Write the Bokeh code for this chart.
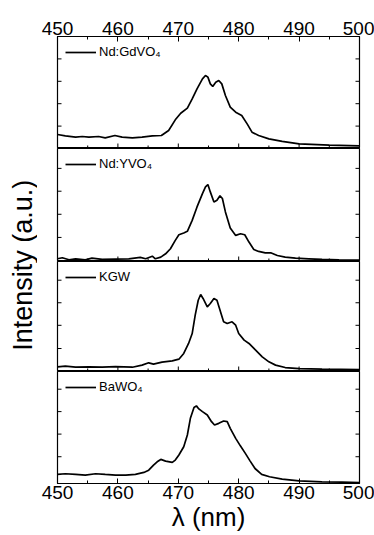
import numpy as np
from bokeh.plotting import figure
from bokeh.models import LinearAxis, FixedTicker, Range1d, Legend, LegendItem, Label
from bokeh.layouts import row, column
from bokeh.embed import file_html
from bokeh.resources import INLINE

FONT = "Liberation Sans"

# Emission spectra (normalised intensity, a.u.) of the four crystals
wl_gdvo4 = [450.0, 451.3, 453.0, 454.1, 455.2, 456.8, 457.9, 459.5, 460.7, 462.4,
            464.0, 465.7, 467.2, 468.4, 469.5, 470.4, 471.5, 472.3, 473.1, 474.0,
            474.5, 474.9, 475.3, 475.7, 476.2, 476.7, 477.2, 477.8, 478.6, 479.5,
            480.5, 481.4, 482.2, 483.3, 485.0, 487.2, 490.0, 495.0, 500.0]
int_gdvo4 = [0.125, 0.113, 0.101, 0.107, 0.101, 0.107, 0.095, 0.116, 0.101, 0.095,
             0.101, 0.113, 0.116, 0.161, 0.256, 0.315, 0.360, 0.443, 0.533, 0.622,
             0.652, 0.637, 0.577, 0.554, 0.592, 0.607, 0.577, 0.473, 0.369, 0.324,
             0.295, 0.220, 0.146, 0.116, 0.086, 0.063, 0.042, 0.030, 0.024]

wl_yvo4 = [450.0, 450.8, 451.9, 453.0, 454.6, 455.7, 457.4, 459.6, 461.8, 463.7,
           464.6, 465.7, 466.2, 467.1, 467.9, 468.7, 469.5, 470.1, 470.9, 471.5,
           472.3, 473.1, 474.0, 474.5, 474.9, 475.3, 475.9, 476.4, 476.9, 477.3,
           477.8, 478.6, 479.5, 480.3, 481.0, 481.7, 482.5, 483.3, 484.4, 485.3,
           486.4, 487.7, 489.4, 491.6, 493.8, 496.6, 500.0]
int_yvo4 = [0.024, 0.033, 0.015, 0.024, 0.015, 0.030, 0.018, 0.021, 0.024, 0.036,
            0.024, 0.047, 0.024, 0.039, 0.068, 0.113, 0.187, 0.237, 0.252, 0.267,
            0.364, 0.483, 0.601, 0.661, 0.681, 0.616, 0.527, 0.542, 0.581, 0.557,
            0.439, 0.296, 0.231, 0.246, 0.237, 0.172, 0.107, 0.089, 0.077, 0.077,
            0.053, 0.039, 0.030, 0.024, 0.018, 0.015, 0.012]

wl_kgw = [450.0, 451.3, 453.0, 455.2, 457.4, 459.6, 462.4, 464.0, 465.1, 465.9,
          467.3, 469.0, 470.1, 470.9, 471.7, 472.3, 472.8, 473.3, 473.7, 474.1,
          474.8, 475.3, 475.9, 476.4, 477.0, 477.5, 478.1, 478.9, 479.5, 480.0,
          480.9, 481.7, 482.8, 483.9, 485.0, 486.1, 487.7, 490.0, 493.8, 500.0]
int_kgw = [0.042, 0.048, 0.039, 0.042, 0.039, 0.045, 0.039, 0.058, 0.079, 0.067,
           0.085, 0.097, 0.112, 0.164, 0.255, 0.345, 0.512, 0.648, 0.700, 0.664,
           0.588, 0.618, 0.664, 0.648, 0.542, 0.452, 0.436, 0.452, 0.421, 0.345,
           0.285, 0.255, 0.194, 0.133, 0.088, 0.058, 0.036, 0.027, 0.021, 0.018]

wl_bawo4 = [450.0, 451.3, 453.0, 454.6, 456.3, 457.9, 459.6, 461.3, 462.9, 464.3,
            465.1, 465.9, 466.5, 467.1, 467.9, 469.0, 469.5, 470.1, 470.9, 471.5,
            472.0, 472.6, 473.0, 473.4, 474.0, 474.8, 475.5, 476.0, 476.7, 477.5,
            478.1, 478.6, 479.5, 480.3, 481.1, 481.9, 482.7, 483.8, 485.1, 487.2,
            490.0, 493.8, 497.1, 500.0]
int_bawo4 = [0.081, 0.087, 0.081, 0.075, 0.087, 0.081, 0.075, 0.075, 0.081, 0.099,
             0.119, 0.164, 0.194, 0.215, 0.200, 0.188, 0.209, 0.254, 0.328, 0.433,
             0.582, 0.678, 0.693, 0.666, 0.642, 0.612, 0.552, 0.522, 0.537, 0.558,
             0.552, 0.493, 0.403, 0.334, 0.269, 0.200, 0.134, 0.081, 0.060, 0.039,
             0.024, 0.015, 0.012, 0.009]

labels = ["Nd:GdVO\u2084", "Nd:YVO\u2084", "KGW", "BaWO\u2084"]

# Axis ticks
x_major = [450, 460, 470, 480, 490, 500]
x_minor = [455, 465, 475, 485, 495]
y_ticks_gdvo4 = [0.2, 0.4, 0.6, 0.8]
y_ticks_yvo4 = [0.213, 0.418, 0.622, 0.824]
y_ticks_kgw = [0.209, 0.42, 0.625, 0.83]
y_ticks_bawo4 = [0.239, 0.441, 0.642, 0.842]

X_LO, X_HI = 450, 500

panels = [
    dict(x=wl_gdvo4, y=int_gdvo4, label=labels[0], yt=y_ticks_gdvo4, h=148, top=36, bottom=0),
    dict(x=wl_yvo4, y=int_yvo4, label=labels[1], yt=y_ticks_yvo4, h=113, top=0, bottom=0),
    dict(x=wl_kgw, y=int_kgw, label=labels[2], yt=y_ticks_kgw, h=110, top=0, bottom=0),
    dict(x=wl_bawo4, y=int_bawo4, label=labels[3], yt=y_ticks_bawo4, h=164, top=0, bottom=52),
]


def labelled_x_axis():
    ax = LinearAxis()
    ax.ticker = FixedTicker(ticks=x_major, minor_ticks=x_minor)
    ax.major_tick_in = 5
    ax.major_tick_out = 0
    ax.minor_tick_in = 3
    ax.minor_tick_out = 0
    ax.axis_line_color = "black"
    ax.major_tick_line_color = "black"
    ax.minor_tick_line_color = "black"
    ax.major_label_text_font = FONT
    ax.major_label_text_font_size = "19px"
    ax.major_label_text_color = "black"
    ax.major_label_standoff = 2
    return ax


def inward_ticks(p, y_ticks, bottom_ticks):
    # short inward tick marks on the frame edges (no labels)
    n_y = len(y_ticks)
    p.ray(x=[X_LO] * n_y, y=y_ticks, length=4, length_units="screen",
          angle=0, line_color="black", line_width=1)
    p.ray(x=[X_HI] * n_y, y=y_ticks, length=4, length_units="screen",
          angle=np.pi, line_color="black", line_width=1)
    if bottom_ticks:
        p.ray(x=x_major, y=[0] * len(x_major), length=5, length_units="screen",
              angle=np.pi / 2, line_color="black", line_width=1)
        p.ray(x=x_minor, y=[0] * len(x_minor), length=3, length_units="screen",
              angle=np.pi / 2, line_color="black", line_width=1)


figs = []
n = len(panels)
for i, pn in enumerate(panels):
    last = i == n - 1
    p = figure(width=337, height=pn["h"], x_range=Range1d(X_LO, X_HI), y_range=Range1d(0, 1),
               output_backend="svg", toolbar_location=None,
               x_axis_location=None, y_axis_location=None,
               min_border_left=20, min_border_right=15,
               min_border_top=pn["top"], min_border_bottom=pn["bottom"])
    p.grid.visible = False
    p.outline_line_color = "black"
    p.outline_line_width = 1.2
    p.background_fill_color = "white"
    p.border_fill_color = "white"

    r = p.line(pn["x"], pn["y"], line_color="black", line_width=1.7)
    inward_ticks(p, pn["yt"], bottom_ticks=not last)

    if last:
        xb = labelled_x_axis()
        xb.axis_label = "\u03bb (nm)"
        xb.axis_label_text_font = FONT
        xb.axis_label_text_font_size = "26px"
        xb.axis_label_text_font_style = "normal"
        xb.axis_label_text_color = "black"
        xb.axis_label_standoff = 0
        p.add_layout(xb, "below")
    if i == 0:
        p.add_layout(labelled_x_axis(), "above")

    leg = Legend(items=[LegendItem(label=pn["label"], renderers=[r])],
                 location="top_left", margin=8, padding=0, spacing=0,
                 glyph_width=31, glyph_height=12, label_height=12,
                 label_standoff=3, label_text_font=FONT, label_text_font_size="13px",
                 label_text_color="black", border_line_color=None,
                 background_fill_alpha=0)
    p.add_layout(leg)
    figs.append(p)

# Shared intensity label down the left side
lab = figure(width=37, height=535, x_range=Range1d(0, 1), y_range=Range1d(0, 1),
             output_backend="svg", toolbar_location=None,
             x_axis_location=None, y_axis_location=None, min_border=0)
lab.grid.visible = False
lab.outline_line_color = None
lab.add_layout(Label(x=0.62, y=0.505, text="Intensity (a.u.)", angle=np.pi / 2,
                     text_align="center", text_baseline="middle",
                     text_font=FONT, text_font_size="27px", text_color="black"))

layout = row(lab, column(*figs, spacing=0), spacing=0)

open("out.html", "w").write(file_html(layout, INLINE))
